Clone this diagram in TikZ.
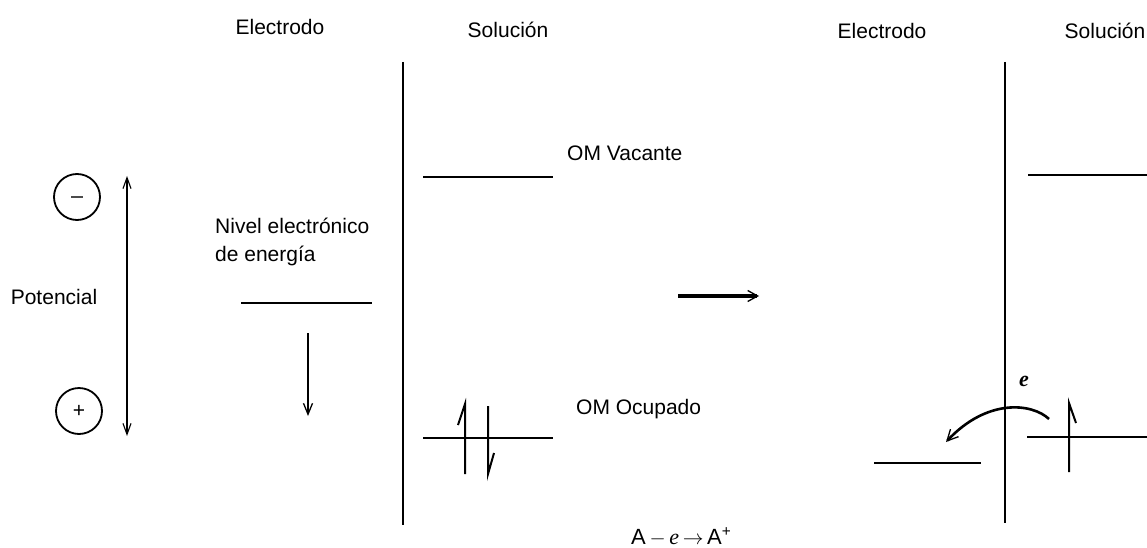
\documentclass[tikz,border=0pt]{standalone}
\usepackage{fontspec}
\setmainfont{Liberation Sans}
\newfontfamily\serifit{Liberation Serif}
\usetikzlibrary{arrows.meta}
\begin{document}
\begin{tikzpicture}[x=1pt,y=-1pt,
  lbl/.style={font=\fontsize{21}{28}\selectfont, inner sep=0pt, text=black},
  level/.style={line width=2.4pt},
  wall/.style={line width=2.4pt},
  thinarrow/.style={line width=1.3pt},
  spin/.style={line width=2pt},
  charge/.style={circle, draw, line width=1.8pt, minimum size=46pt, inner sep=0pt}
]
\useasboundingbox (0,0) rectangle (1147,548);

% headings
\node[lbl] (el1) at (280,27) {Electrodo};
\node[lbl] (so1) at (508,30) {Solución};
\node[lbl] (el2) at (882,31) {Electrodo};
\node[lbl] (so2) at (1105,31) {Solución};

% potential scale
\node[charge] (minus) at (77,197) {};
\draw[line width=2.6pt, black!70] ([xshift=-6pt]minus.center) -- ([xshift=6pt]minus.center);
\node[charge, font=\fontsize{21}{24}\selectfont] (plus) at (79,411) {+};
\node[lbl] (pot) at (54,297) {Potencial};
\coordinate (ptop) at (127,176);
\coordinate (pbot) at (127,436);
\draw[thinarrow, {Straight Barb[length=11pt,width=8pt,line width=1.1pt]}-{Straight Barb[length=11pt,width=8pt,line width=1.1pt]}] (ptop) -- (pbot);

% left panel
\coordinate (w1a) at (403,62);
\coordinate (w1b) at (403,525);
\draw[wall] (w1a) -- (w1b);

\node[lbl, align=left, anchor=north west] (nivel) at (215,218) {Nivel electrónico\\de energía};
\coordinate (eL1) at (241,303);
\coordinate (eR1) at (372,303);
\draw[level] (eL1) -- (eR1);
\coordinate (da1) at (308,333);
\coordinate (da2) at (308,416);
\draw[line width=2.6pt, -{Straight Barb[length=11pt,width=9pt,line width=1.3pt]}] (da1) -- (da2);

\coordinate (vL1) at (423,177);
\coordinate (vR1) at (553,177);
\draw[level] (vL1) -- (vR1);
\node[lbl, anchor=west] (omv) at (567,153) {OM Vacante};

\coordinate (oL1) at (423,438);
\coordinate (oR1) at (553,438);
\draw[level] (oL1) -- (oR1);
\node[lbl, anchor=west] (omo) at (576,409) {OM Ocupado};

% spins left
\coordinate (su1) at (465,404);
\coordinate (su0) at (465,474);
\coordinate (sub) at (458,425);
\draw[spin] (su0) -- (su1) -- (sub);
\coordinate (sd1) at (488,406);
\coordinate (sd0) at (488,474);
\coordinate (sdb) at (494,453);
\draw[spin] (sd1) -- (sd0) -- (sdb);

% middle arrow
\coordinate (ma1) at (678,296);
\coordinate (ma2) at (759,296);
\draw[line width=3.2pt, -{Straight Barb[length=10pt,width=11pt,line width=1.3pt]}] (ma1) -- (ma2);

% right panel
\coordinate (w2a) at (1005,62);
\coordinate (w2b) at (1005,523);
\draw[wall] (w2a) -- (w2b);

\coordinate (vL2) at (1028,175);
\coordinate (vR2) at (1147,175);
\draw[level] (vL2) -- (vR2);

\coordinate (oL2) at (1027,437);
\coordinate (oR2) at (1147,437);
\draw[level] (oL2) -- (oR2);

\coordinate (ru1) at (1069,403);
\coordinate (ru0) at (1069,472);
\coordinate (rub) at (1076,423);
\draw[spin] (ru0) -- (ru1) -- (rub);

\coordinate (eL2) at (874,463);
\coordinate (eR2) at (981,463);
\draw[level] (eL2) -- (eR2);

\coordinate (cs) at (1049,419);
\coordinate (ce) at (946,442);
\draw[line width=2.6pt, -{Straight Barb[length=11pt,width=11pt,line width=1.3pt]}] (cs) .. controls (1032,403) and (987,398) .. (ce);
\node[font=\serifit\itshape\bfseries\fontsize{22}{24}\selectfont, inner sep=0pt] (elec) at (1024,381) {e};

% equation
\node[lbl, font=\fontsize{22}{24}\selectfont, anchor=west] (eq) at (631,537) {A\,$-$\,{\serifit\itshape e}\,$\rightarrow$\,A\textsuperscript{+}};
\end{tikzpicture}
\end{document}
